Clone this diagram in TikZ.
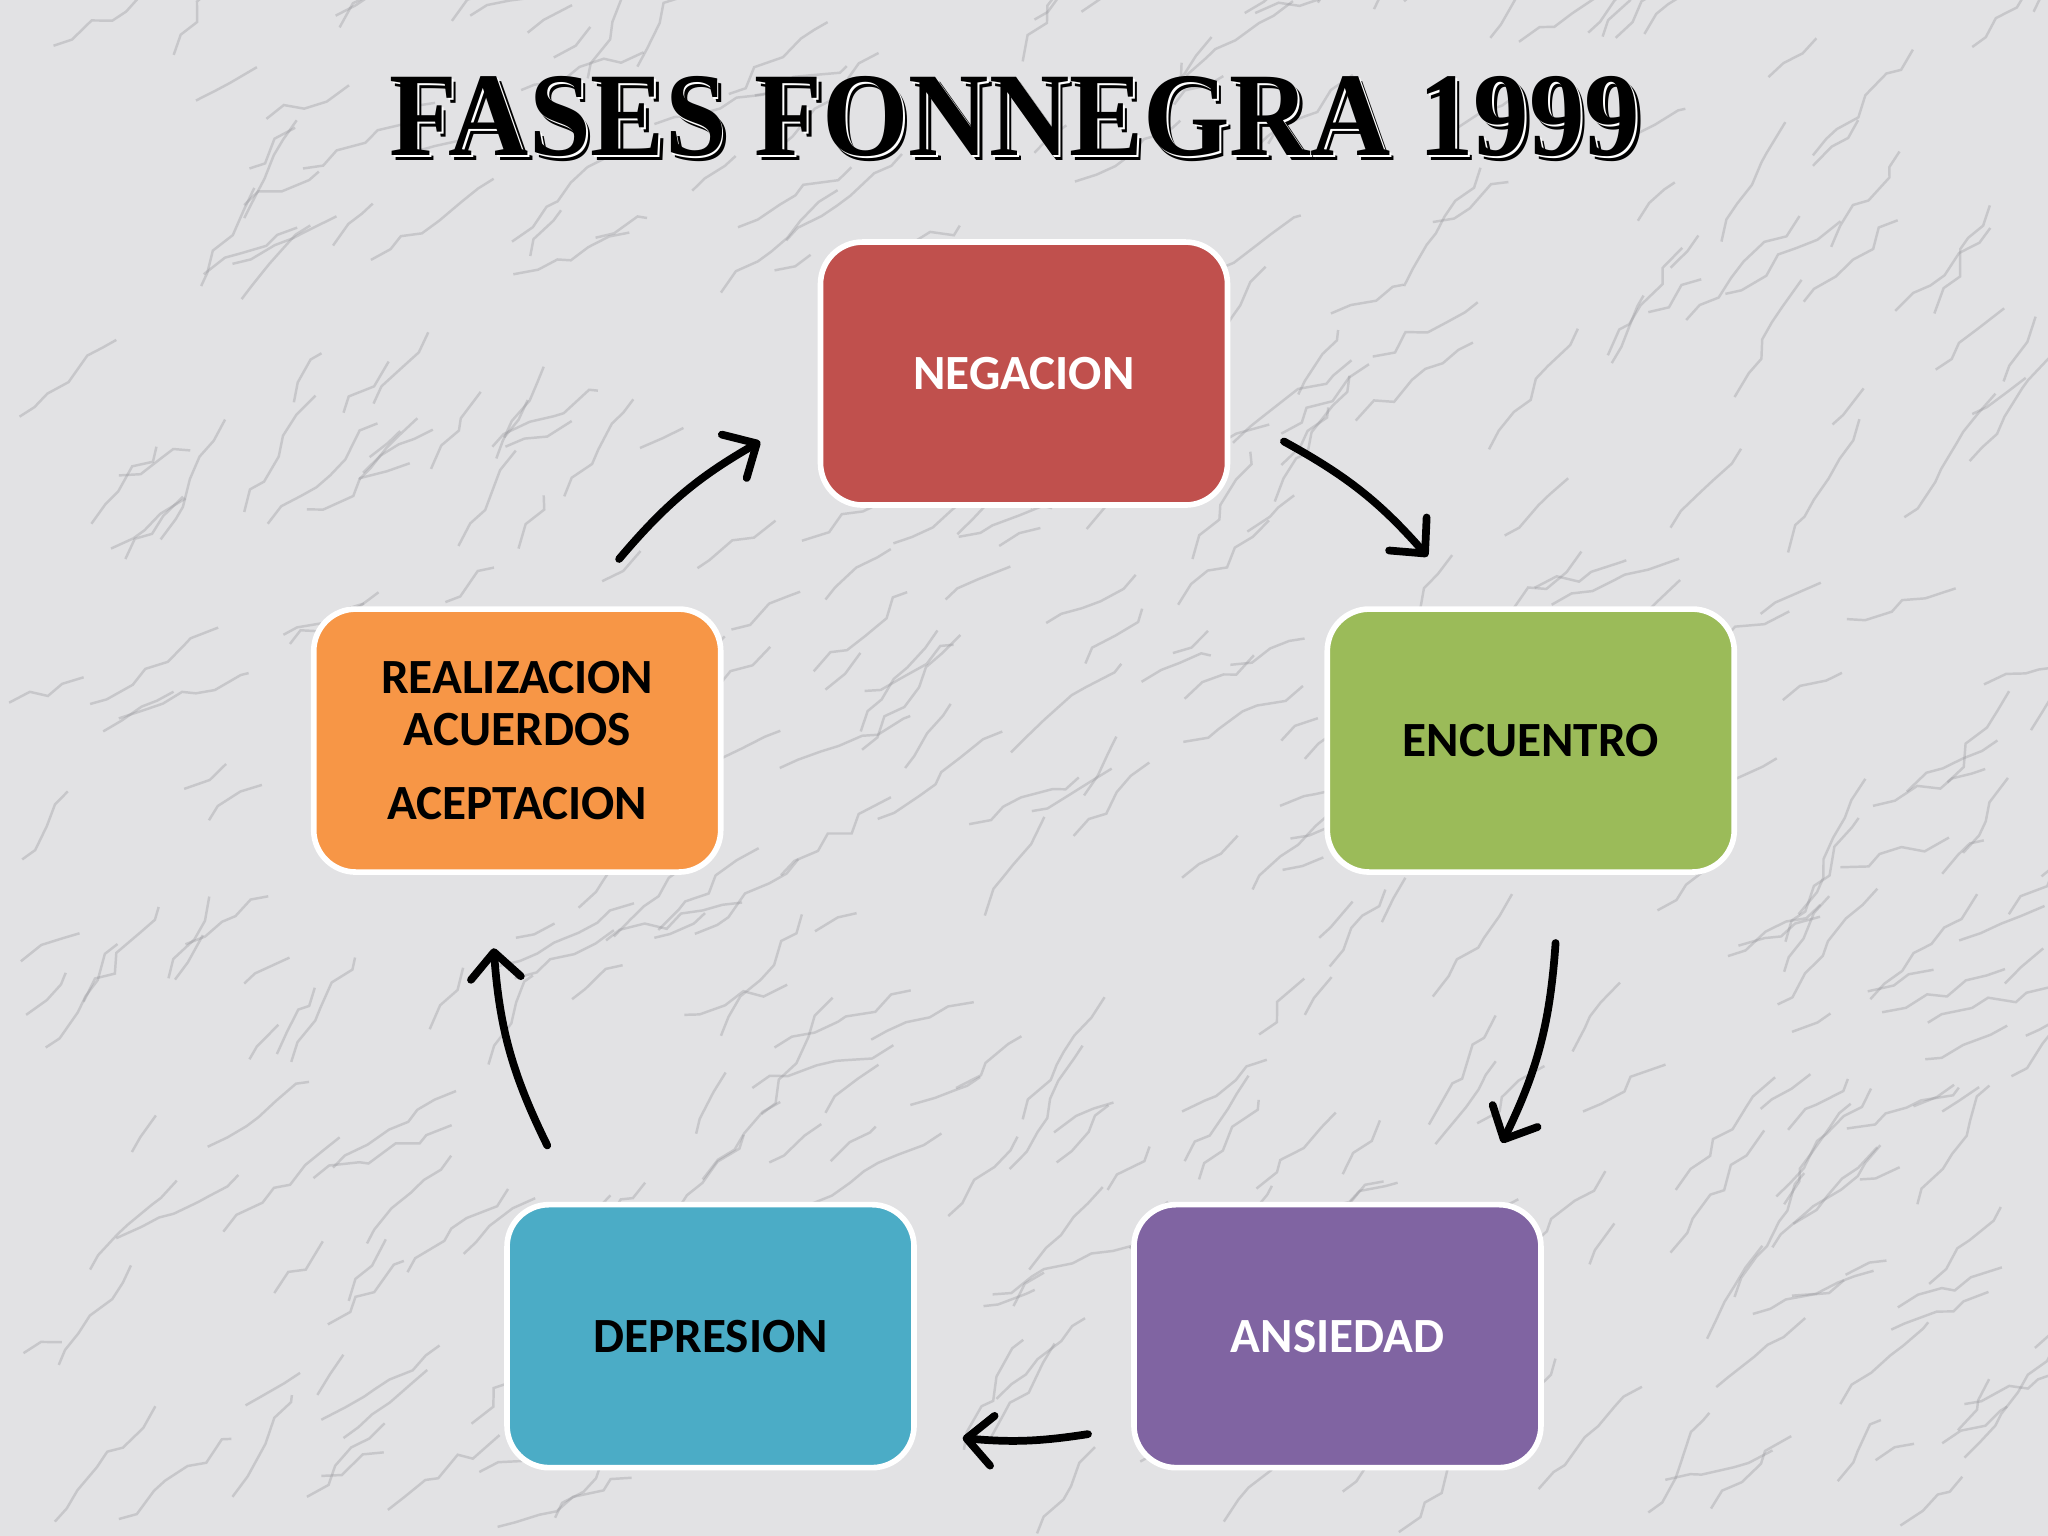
\documentclass[tikz,border=0pt]{standalone}
\usepackage{fontspec}
\setmainfont{Carlito}
\newfontfamily\titlefont{Liberation Serif}
\usetikzlibrary{arrows.meta,decorations.pathmorphing}
\definecolor{bgmarble}{RGB}{226,226,228}
\definecolor{veincol}{RGB}{150,150,155}
\definecolor{cred}{RGB}{192,80,77}
\definecolor{cgreen}{RGB}{155,187,89}
\definecolor{cpurple}{RGB}{128,100,162}
\definecolor{cblue}{RGB}{75,172,198}
\definecolor{corange}{RGB}{247,150,70}
\tikzset{
  phase/.style={draw=white, line width=1.6pt, rounded corners=0.42cm,
    minimum width=4.07cm, minimum height=2.63cm, align=center,
    font=\fontsize{14}{15}\selectfont\bfseries, inner sep=0pt},
  cyclearrow/.style={line width=2.2pt, line cap=round, black,
    -{Straight Barb[length=2.6mm,width=5mm,line width=2.2pt,round]}},
  titletext/.style={font=\titlefont\bfseries\fontsize{34}{36}\selectfont, inner sep=0pt, xscale=0.93},
  vein/.style={draw=veincol, opacity=0.35, line width=0.7pt,
    decorate, decoration={random steps, segment length=6pt, amplitude=2pt}}
}
\begin{document}
\begin{tikzpicture}[x=0.013061cm,y=-0.013061cm]
\fill[bgmarble] (0,0) rectangle (1568,1176);
\useasboundingbox (0,0) rectangle (1568,1176);
% marble texture
\begin{scope}
\clip (0,0) rectangle (1568,1176);
\pgfmathsetseed{11}
\foreach \i in {1,...,420} {
  \pgfmathsetmacro\xa{random(0,1568)}
  \pgfmathsetmacro\ya{random(0,1176)}
  \pgfmathsetmacro\ang{-15-50*rnd}
  \pgfmathsetmacro\len{30+90*rnd}
  \draw[vein] (\xa,\ya) -- ++(\ang:\len);
}
\end{scope}
% title with engraved shadow
\node[titletext, text=black] (tshadow) at (780.5,93) {FASES FONNEGRA 1999};
\node[titletext, text=white] (tlight) at (778.5,90.5) {FASES FONNEGRA 1999};
\node[titletext, text=black] (title) at (777,89) {FASES FONNEGRA 1999};
% phases
\node[phase, fill=cred, text=white] (neg) at (784,286) {NEGACION};
\node[phase, fill=cgreen, text=black] (enc) at (1172,567) {ENCUENTRO};
\node[phase, fill=cpurple, text=white] (ans) at (1024,1023) {ANSIEDAD};
\node[phase, fill=cblue, text=black] (dep) at (544,1023) {DEPRESION};
\node[phase, fill=corange, text=black] (rea) at (396,567) {REALIZACION\\ACUERDOS\\[6pt]ACEPTACION};
% arrow end points
\coordinate (a1s) at (983,338);  \coordinate (a1e) at (1093,426);
\coordinate (a2s) at (1191,722); \coordinate (a2e) at (1150,875);
\coordinate (a3s) at (833,1098); \coordinate (a3e) at (737,1101);
\coordinate (a4s) at (419,877);  \coordinate (a4e) at (378,726);
\coordinate (a5s) at (474,428);  \coordinate (a5e) at (582,338);
\draw[cyclearrow] (a1s) to[bend left=10] (a1e);
\draw[cyclearrow] (a2s) to[bend left=11] (a2e);
\draw[cyclearrow] (a3s) to[bend left=7] (a3e);
\draw[cyclearrow] (a4s) to[bend left=11] (a4e);
\draw[cyclearrow] (a5s) to[bend left=10] (a5e);
\end{tikzpicture}
\end{document}
